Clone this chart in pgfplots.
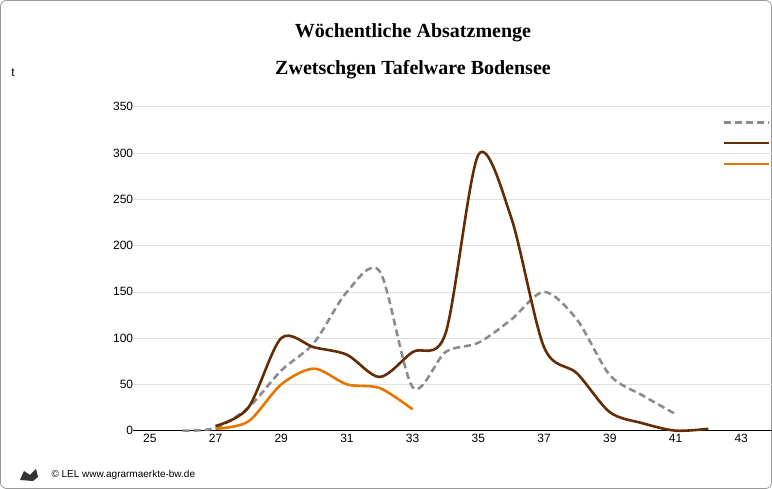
\documentclass[border=0pt]{standalone}
\usepackage{pgfplots}
\pgfplotsset{compat=1.18}
\usepackage{fontspec}
\setmainfont{Liberation Sans}
\newfontfamily\titlefont{Liberation Serif}
\definecolor{g24}{RGB}{140,140,140}
\definecolor{b25}{RGB}{99,44,4}
\definecolor{o26}{RGB}{230,118,0}
\begin{document}
\begin{tikzpicture}[x=1pt,y=1pt]
\useasboundingbox (0,0) rectangle (772,489);
\draw[rounded corners=6pt,draw=black!40,line width=0.8pt] (0.5,0.5) rectangle (771.5,488.5);
\node[font=\titlefont\bfseries\fontsize{20}{24}\selectfont,align=center] at (413,456) {Wöchentliche Absatzmenge};
\node[font=\titlefont\bfseries\fontsize{20}{24}\selectfont,align=center] at (413,419) {Zwetschgen Tafelware Bodensee};
\node[font=\fontsize{12}{14}\selectfont] at (13,416) {t};
\node[anchor=west,font=\fontsize{10}{12}\selectfont] at (48,14) {© LEL www.agrarmaerkte-bw.de};
\fill[black!80] (20,9) -- (24,18) -- (30,14) -- (36,20) -- (38,12) -- (33,8) -- cycle;
\begin{axis}[at={(40.6,63)},anchor=south west,scale only axis,width=706.4,height=324,
  xmin=24.5,xmax=46,ymin=0,ymax=350,
  axis x line*=bottom, axis y line*=left,
  x axis line style={-,black},
  y axis line style={draw=none},
  xtick={25,27,...,45}, ytick={0,50,...,350},
  yticklabels={},
  ymajorgrids, grid style={black!12,line width=0.5pt},
  major tick length=0pt,
  tick label style={font=\fontsize{12}{14}\selectfont},
  /pgf/number format/assume math mode=true,
  clip=false,
  legend style={at={(rel axis cs:0.83,0.98)},anchor=north west,draw=none,fill=none,font=\fontsize{12}{14}\selectfont,row sep=7pt},
  legend cell align=left,
  legend image code/.code={\draw[#1] (0,0) -- (45pt,0);},
]
\pgfplotsinvokeforeach{0,50,...,350}{\node[anchor=east,font=\fontsize{12}{14}\selectfont] at (axis cs:24.6,#1) {#1};}
\addplot[g24,line width=2.6pt,dashed,dash pattern=on 7pt off 4pt,smooth,tension=0.5] coordinates {
(26,0)(27,3)(28,25)(29,65)(30,95)(31,150)(32,172)(33,47)(34,85)(35,95)(36,120)(37,150)(38,120)(39,60)(40,38)(41,18)};
\addlegendentry{2024}
\addplot[b25,line width=2.6pt,smooth,tension=0.5] coordinates {
(27,5)(28,25)(29,100)(30,90)(31,82)(32,58)(33,85)(34,105)(35,298)(36,230)(37,90)(38,62)(39,20)(40,8)(41,0)(42,2)};
\addlegendentry{2025}
\addplot[o26,line width=2.6pt,smooth,tension=0.5] coordinates {
(27,2)(28,10)(29,50)(30,67)(31,50)(32,46)(33,23)};
\addlegendentry{2026}
\end{axis}
\end{tikzpicture}
\end{document}
